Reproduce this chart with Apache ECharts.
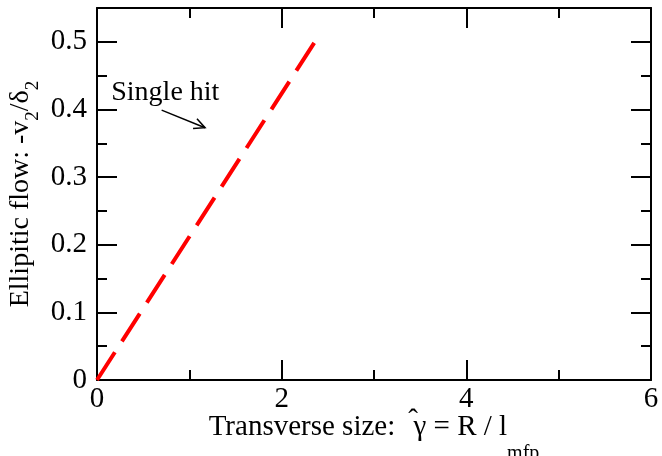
<!DOCTYPE html>
<html>
<head>
<meta charset="utf-8">
<script src="https://cdn.jsdelivr.net/npm/echarts@6/dist/echarts.min.js"></script>
<style>
  html, body { margin: 0; padding: 0; background: #fff; }
  #chart { width: 662px; height: 456px; }
</style>
</head>
<body>
<div id="chart"></div>
<script>
// Single hit curve: v2/delta2 vs transverse size
var gammaValues = [0, 2.36];
var flowValues = [0, 0.5];

// annotation: label position, arrow start, arrow end (data coords)
var noteText = 'Single hit';
var notePos = [0.74, 0.425];
var arrowFrom = [0.70, 0.399];
var arrowTo = [1.17, 0.373];

var FONT = 'Liberation Serif';

function init() {
    var myChart = echarts.init(document.getElementById('chart'));

    var seriesData = gammaValues.map(function (g, i) { return [g, flowValues[i]]; });

    var lineAxis = { show: true, onZero: false, lineStyle: { color: '#000', width: 2 } };
    var tick = { show: true, inside: true, length: 20, lineStyle: { color: '#000', width: 2 } };
    var minor = { show: true, splitNumber: 2, length: 10, lineStyle: { color: '#000', width: 2 } };

    var xBase = { type: 'value', min: 0, max: 6, interval: 2, axisLine: lineAxis, axisTick: tick, minorTick: minor, splitLine: { show: false } };
    var yBase = { type: 'value', min: 0, max: 0.55, interval: 0.1, axisLine: lineAxis, axisTick: tick, minorTick: minor, splitLine: { show: false } };

    myChart.setOption({
        animation: false,
        grid: { left: 97, right: 11, top: 8, bottom: 76, containLabel: false, outerBoundsMode: 'none' },
        xAxis: [
            Object.assign({}, xBase, {
                position: 'bottom',
                axisLabel: { color: '#000', fontFamily: FONT, fontSize: 29, margin: 5 },
                // hat drawn as a zero-width token raised above the gamma
                name: '{n|Transverse size: }{h|\u02C6}{n|γ = R / l}{s|mfp}',
                nameLocation: 'middle',
                nameGap: 21,
                nameMoveOverlap: false,
                nameTextStyle: {
                    rich: {
                        n: { fontFamily: FONT, fontSize: 29, color: '#000', lineHeight: 30, padding: [12, 0, 0, 0], verticalAlign: 'top' },
                        h: { fontFamily: FONT, fontSize: 29, color: '#000', lineHeight: 30, width: 1, align: 'left', padding: [6, 0, 0, 10], verticalAlign: 'top' },
                        s: { fontFamily: FONT, fontSize: 20, color: '#000', lineHeight: 20, padding: [43, 0, 0, 0], verticalAlign: 'top' }
                    }
                }
            }),
            Object.assign({}, xBase, { position: 'top', axisLabel: { show: false } })
        ],
        yAxis: [
            Object.assign({}, yBase, {
                position: 'left',
                axisLabel: { color: '#000', fontFamily: FONT, fontSize: 29, margin: 10, showMaxLabel: false },
                name: '{n|Ellipitic flow: -v}{s|2}{n|/δ}{s|2}',
                nameLocation: 'middle',
                nameGap: 61,
                nameMoveOverlap: false,
                nameTextStyle: {
                    rich: {
                        n: { fontFamily: FONT, fontSize: 28, color: '#000', lineHeight: 29, verticalAlign: 'top' },
                        s: { fontFamily: FONT, fontSize: 19, color: '#000', lineHeight: 19, padding: [17, 0, 0, 0], verticalAlign: 'top' }
                    }
                }
            }),
            Object.assign({}, yBase, { position: 'right', axisLabel: { show: false } })
        ],
        series: [
            {
                type: 'line',
                data: seriesData,
                showSymbol: false,
                lineStyle: { color: '#ff0000', width: 4, type: [33, 13], cap: 'butt' }
            }
        ]
    });

    var p = myChart.convertToPixel({ gridIndex: 0 }, notePos);
    var a = myChart.convertToPixel({ gridIndex: 0 }, arrowFrom);
    var b = myChart.convertToPixel({ gridIndex: 0 }, arrowTo);
    var ang = Math.atan2(b[1] - a[1], b[0] - a[0]);
    var hl = 12, hw = 0.45;
    var h1 = [b[0] - hl * Math.cos(ang - hw), b[1] - hl * Math.sin(ang - hw)];
    var h2 = [b[0] - hl * Math.cos(ang + hw), b[1] - hl * Math.sin(ang + hw)];

    myChart.setOption({
        graphic: [
            {
                type: 'text', x: p[0], y: p[1],
                style: { text: noteText, fill: '#000', font: '28px "Liberation Serif"', align: 'center', verticalAlign: 'middle' }
            },
            {
                type: 'line', shape: { x1: a[0], y1: a[1], x2: b[0], y2: b[1] },
                style: { stroke: '#000', lineWidth: 1.5 }
            },
            {
                type: 'polyline', shape: { points: [h1, b, h2] },
                style: { stroke: '#000', lineWidth: 1.5, fill: null }
            }
        ]
    });
}

document.addEventListener("DOMContentLoaded", function (event) {
    init();
});
</script>
</body>
</html>
